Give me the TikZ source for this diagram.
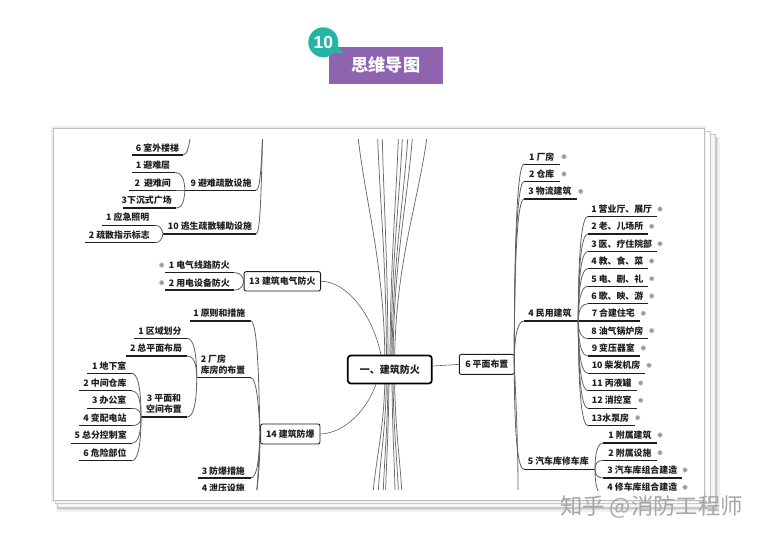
\documentclass[tikz,border=0pt]{standalone}
\usepackage{fontspec}
\setmainfont{Noto Sans CJK SC}
\newfontfamily\latinf{Liberation Sans}
\usetikzlibrary{calc}
\definecolor{ink}{HTML}{1E1E1E}
\definecolor{badge}{HTML}{8E64B0}
\definecolor{tealc}{HTML}{26B5A5}
\tikzset{
  topic/.style={inner sep=0pt,font=\fontsize{8.9}{11.6}\selectfont\bfseries,text=ink,align=left},
  uline/.style={draw=ink,line width=1.05pt},
  conn/.style={draw=black!62,line width=0.8pt},
  rootline/.style={draw=black!58,line width=0.75pt},
  box/.style={draw=ink,fill=white,line width=0.9pt,rounded corners=2pt,inner sep=0pt,font=\fontsize{8.9}{11}\selectfont\bfseries,text=ink},
  dotm/.style={circle,fill=black!40,draw=black!20,line width=0.6pt,minimum size=4.6pt,inner sep=0pt},
  sheet/.style={draw=black!22,fill=white,line width=0.9pt},
}
% name, cx, cy, text, x-left, x-right, underline y
\newcommand\tp[7]{%
  \node[topic] (#1) at (#2,#3) {#4};
  \coordinate (#1-l) at (#5,#7);
  \coordinate (#1-r) at (#6,#7);
  \draw[uline] (#1-l) -- (#1-r);
}
% junction -> target: a bracket curve
\newcommand\cv[2]{\draw[conn] (#1) .. controls ($(#1)!.72!(#1|-#2)$) and ($(#2)!.6!(#2-|#1)$) .. (#2);}
\newcommand\bul[3]{\node[dotm] (#1) at (#2,#3) {};}
\begin{document}
\begin{tikzpicture}[x=1pt,y=-1pt]
\useasboundingbox (0,0) rectangle (763,538);
% stacked paper
\fill[black!5] (56,137) rectangle (720,512);
\fill[black!12] (57,137) rectangle (718,510);
\fill[black!22] (58,137) rectangle (716.5,508.5);
\path[sheet,fill=black!4] (57,134) rectangle (715,507);
\path[sheet] (55,131) rectangle (710,503);
\fill[black!7] (51,126) rectangle (706,502);
\path[draw=black!25,fill=white,line width=0.6pt] (53,128) rectangle (704,500);
% heading badge
\node[fill=badge,minimum width=113.7pt,minimum height=36.7pt,inner sep=0pt,text=white,font=\fontsize{17.2}{18}\selectfont\bfseries] (head) at (385.8,65.4) {思维导图};
\fill[tealc] (331,52) -- (343.5,53.5) -- (335,42) -- cycle;
\node[circle,fill=tealc,minimum size=30pt,inner sep=0pt,text=white,font=\latinf\fontsize{17.5}{18}\selectfont\bfseries] (num) at (323.3,42.3) {10};
% mind map
\begin{scope}
\clip (53,139) rectangle (704,490);
\foreach \n/\xs/\xt/\yt in {a/385/358.3/139,b/386.5/377.7/139,c/388/382.3/139,d/390/398.3/139,e/391/402.3/139,f/392/407.7/139,g/393/412.3/139,h/394.5/426.7/139,
  i/385/373.3/490,j/386.5/378.3/490,k/388/383.3/490,l/389/385.7/490,m/392/395/490,n/393/398.3/490,o/394.5/401.7/490}{
  \coordinate (end\n) at (\xt,\yt);
  \coordinate (st\n) at (\xs,369.5);
  \draw[rootline] (st\n) .. controls ($(st\n)!.45!(st\n|-end\n)$) and ($(end\n)!.3!(st\n)$) .. (end\n);
}
% boxes
\node[box,draw=black,line width=1.7pt,rounded corners=3pt,minimum width=84pt,minimum height=28pt,font=\fontsize{10}{11}\selectfont\bfseries] (root) at (389.8,369.5) {一、建筑防火};
\node[box,minimum width=76.5pt,minimum height=19.3pt] (b13) at (282.3,281.3) {13 建筑电气防火};
\node[box,minimum width=59.3pt,minimum height=20pt] (b14) at (290.3,434) {14 建筑防爆};
\node[box,minimum width=55pt,minimum height=20pt] (b6) at (486.8,364.4) {6 平面布置};
\draw[conn,line width=.6pt] (b13.east) .. controls (345,281) and (372,312) .. (381,355);
\draw[conn,line width=.6pt] (b14.east) .. controls (345,433) and (367,410) .. (376,384);
\draw[conn,line width=.6pt] (root.east |- 0,366) -- (b6.west);
% upper left
\tp{t6}{157.5}{148}{6 室外楼梯}{131.7}{183}{155}
\coordinate (t6e) at (190,139);
\draw[conn] (t6-r) .. controls (187,155) and (188.5,148) .. (t6e);
\tp{t9}{221}{182.7}{9 避难疏散设施}{185}{256}{190.3}
\coordinate (t9e) at (262.5,139);
\coordinate (t10e) at (262.5,139);
\draw[conn] (t9-r) .. controls (260,190) and (261,170) .. (t9e);
\tp{t91}{153}{165}{1 避难层}{132}{175}{172.7}
\tp{t92}{152.7}{182.7}{2 \ 避难间}{129}{176}{190.3}
\tp{t93}{146.7}{200}{3下沉式广场}{123}{176}{208}
\draw[conn] (t9-l) .. controls (184,180) and (183,172.7) .. (t91-r);
\draw[conn] (t9-l) -- (t92-r);
\draw[conn] (t9-l) .. controls (184,200) and (183,208) .. (t93-r);
\tp{t10}{210}{226}{10 逃生疏散辅助设施}{163}{256}{234}
\draw[conn] (t10-r) .. controls (260,234) and (261,200) .. (t10e);
\tp{t101}{127.7}{217.3}{1 应急照明}{101.7}{155}{225.3}
\tp{t102}{119.3}{235}{2 疏散指示标志}{85}{155}{242.7}
\draw[conn] (t10-l) .. controls (162,229) and (160,225.3) .. (t101-r);
\draw[conn] (t10-l) .. controls (162,239) and (160,242.7) .. (t102-r);
% 13
\tp{t131}{199.3}{265}{1 电气线路防火}{165}{234}{272.7}
\tp{t132}{199.3}{282.7}{2 用电设备防火}{165}{234}{290}
\bul{d131}{161.7}{265}
\bul{d132}{161.7}{282.7}
\draw[conn] (b13.west) .. controls (243,277) and (241,272.7) .. (t131-r);
\draw[conn] (b13.west) .. controls (243,286) and (241,290) .. (t132-r);
% 14
\tp{t141}{219.3}{313.3}{1 原则和措施}{190}{250.7}{321}
\node[topic] (t142) at (223,364.5) {2 厂房\\库房的布置};
\coordinate (t142-l) at (196.7,377.7);
\coordinate (t142-r) at (250.7,377.7);
\draw[uline] (t142-l) -- (t142-r);
\tp{t143}{223.3}{470.7}{3 防爆措施}{197.7}{250.7}{478}
\tp{t144}{223.3}{487.7}{4 泄压设施}{197.7}{250.7}{495}
\coordinate (b14j) at (260,434);
\coordinate (b14d) at (257,490);
\coordinate (b14e) at (256.7,490);
\draw[conn] (b14j) .. controls (259,390) and (258,321) .. (t141-r);
\draw[conn] (b14j) .. controls (259,410) and (257,377.7) .. (t142-r);
\draw[conn] (b14j) .. controls (259,460) and (257,478) .. (t143-r);
\draw[conn] (b14j) .. controls (259,455) and (258,475) .. (b14d);
\draw[conn] (b14j) .. controls (260,455) and (259,475) .. (b14e);
\tp{t1421}{160}{331}{1 区域划分}{134}{187}{338.3}
\tp{t1422}{156}{348.3}{2 总平面布局}{126}{187}{356}
\node[topic,align=center] (t1423) at (164,403.5) {3 平面和\\空间布置};
\coordinate (t1423-l) at (141,417);
\coordinate (t1423-r) at (187,417);
\draw[uline] (t1423-l) -- (t1423-r);
\cv{t142-l}{t1421-r}
\cv{t142-l}{t1422-r}
\cv{t142-l}{t1423-r}
\tp{s1}{109.3}{365.7}{1 地下室}{87.3}{131.7}{373.3}
\tp{s2}{105}{383}{2 中间仓库}{79}{131.7}{390.7}
\tp{s3}{109.3}{400.3}{3 办公室}{87.3}{131.7}{408.3}
\tp{s4}{105}{418}{4 变配电站}{79}{131.7}{425.7}
\tp{s5}{100.7}{435.3}{5 总分控制室}{70.7}{131.7}{443.3}
\tp{s6}{105}{452.7}{6 危险部位}{79}{131.7}{460.7}
\foreach \s in {s1,s2,s3,s4,s5,s6}{\cv{t1423-l}{\s-r}}
% right side
\coordinate (rj) at (514.3,364.4);
\coordinate (rd) at (518,490);
\tp{r1}{541.7}{156.7}{1 厂房}{524}{560.3}{164.3}
\tp{r2}{541.7}{174}{2 仓库}{524}{560.3}{181.7}
\tp{r3}{550}{191.3}{3 物流建筑}{524}{576.7}{199}
\tp{r4}{550}{313.3}{4 民用建筑}{524}{578.3}{321}
\tp{r5}{558.3}{461.3}{5 汽车库修车库}{524}{595}{469.3}
\bul{dr1}{564}{156.7}
\bul{dr2}{564}{174}
\bul{dr3}{580.7}{191.3}
\foreach \s in {r1,r2,r3,r4,r5}{\cv{rj}{\s-l}}
\draw[conn] (rj) .. controls (517,420) and (518,460) .. (rd);
% civil buildings
\tp{c1}{621.7}{209}{1 营业厅、展厅}{588}{656.7}{216.3}
\tp{c2}{617.3}{226.3}{2 老、儿场所}{588}{648.3}{234}
\tp{c3}{621.7}{243.7}{3 医、疗住院部}{588}{656.7}{251.3}
\tp{c4}{617.3}{261}{4 教、食、菜}{588}{648.3}{268.7}
\tp{c5}{617.3}{278.7}{5 电、剧、礼}{588}{648.3}{286.3}
\tp{c6}{617.3}{296}{6 歌、映、游}{588}{648.3}{303.7}
\tp{c7}{613.3}{313.3}{7 合建住宅}{578.3}{640}{321}
\tp{c8}{617.3}{330.7}{8 油气锅炉房}{588}{648.3}{338.7}
\tp{c9}{613.3}{348}{9 变压器室}{588}{640}{356}
\tp{c10}{616}{365.3}{10 柴发机房}{588}{645}{373.3}
\tp{c11}{611.7}{383}{11 丙液罐}{588}{636.7}{390.7}
\tp{c12}{611.7}{400.3}{12 消控室}{588}{636.7}{408.3}
\tp{c13}{610.3}{417.7}{13水泵房}{588}{635}{425.7}
\foreach \s in {c1,c2,c3,c4,c5,c6,c8,c9,c10,c11,c12,c13}{\cv{r4-r}{\s-l}}
\bul{dc1}{660}{209}
\bul{dc2}{651.7}{226.3}
\bul{dc3}{660}{243.7}
\bul{dc4}{651.7}{261}
\bul{dc5}{651.7}{278.7}
\bul{dc6}{651.7}{296}
\bul{dc7}{643.3}{313.3}
\bul{dc8}{651.7}{330.7}
\bul{dc9}{643.3}{348}
\bul{dc10}{649}{365.3}
\bul{dc11}{640.7}{383}
\bul{dc12}{640.7}{400.3}
\bul{dc13}{637.7}{417.7}
% garages
\tp{g1}{630}{435}{1 附属建筑}{603.3}{656.7}{443}
\tp{g2}{630}{452.7}{2 附属设施}{603.3}{656.7}{460.3}
\tp{g3}{642.3}{470}{3 汽车库组合建造}{603.3}{681.7}{478}
\tp{g4}{642.3}{487.3}{4 修车库组合建造}{603.3}{681.7}{495}
\foreach \s in {g1,g2,g3,g4}{\cv{r5-r}{\s-l}}
\bul{dg1}{660}{435}
\bul{dg2}{660}{452.7}
\bul{dg3}{685}{470}
\bul{dg4}{685}{487.3}
\end{scope}
% watermark
\node[inner sep=0pt,text=black!35,font=\fontsize{22.4}{24}\selectfont] (wm) at (651.5,507) {知乎 @消防工程师};
\end{tikzpicture}
\end{document}
